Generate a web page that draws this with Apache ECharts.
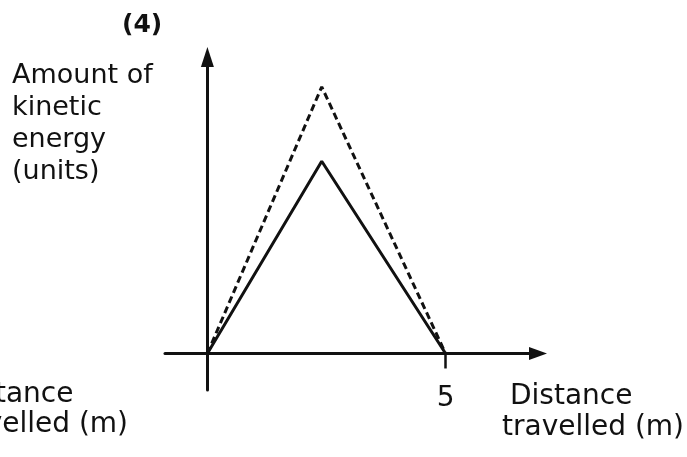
<!DOCTYPE html>
<html>
<head>
<meta charset="utf-8">
<script src="https://cdn.jsdelivr.net/npm/echarts@6/dist/echarts.min.js"></script>
<style>
html,body{margin:0;padding:0;background:#fff;}
#chart{width:687px;height:457px;}
</style>
</head>
<body>
<div id="chart"></div>
<script>
// Data
const distance = [0, 2.4, 5];          // metres
const keSolid = [0, 4.0, 0];           // kinetic energy, solid line (units)
const keDashed = [0, 5.55, 0];         // kinetic energy, dashed line (units)
const xTickValues = [5];               // labelled tick on x axis
const panelLabel = '(4)';
const yTitleLines = ['Amount of', 'kinetic', 'energy', '(units)'];
const xTitleLines = ['Distance', 'travelled (m)'];

const chart = echarts.init(document.getElementById('chart'), null, {renderer: 'canvas'});
const FONT = '"DejaVu Sans", "Liberation Sans", sans-serif';
const INK = '#111';

function pairs(xs, ys) { return xs.map((x, i) => [x, ys[i]]); }

const option = {
  backgroundColor: '#fff',
  animation: false,
  grid: {left: 165, right: 149, top: 57, bottom: 67, containLabel: false},
  xAxis: {
    type: 'value',
    min: -0.89, max: 6.94,
    splitLine: {show: false},
    axisLine: {show: true, onZero: true, symbol: ['none', 'triangle'], symbolSize: [13, 18],
      lineStyle: {color: INK, width: 3}},
    axisTick: {show: true, customValues: xTickValues, length: 15, inside: false,
      lineStyle: {color: INK, width: 2.5}},
    axisLabel: {show: true, customValues: xTickValues, margin: -5,
      fontFamily: FONT, fontSize: 28, color: INK}
  },
  yAxis: {
    type: 'value',
    min: -0.76, max: 6.17,
    splitLine: {show: false},
    axisLine: {show: true, onZero: true, symbol: ['none', 'triangle'], symbolSize: [13, 20],
      lineStyle: {color: INK, width: 3}},
    axisTick: {show: false},
    axisLabel: {show: false}
  },
  series: [
    {
      type: 'line', name: 'solid', data: pairs(distance, keSolid),
      symbol: 'none', lineStyle: {color: INK, width: 3, type: 'solid'}
    },
    {
      type: 'line', name: 'dashed', data: pairs(distance, keDashed),
      symbol: 'none', lineStyle: {color: INK, width: 3, type: [7, 4]}
    }
  ],
  graphic: [
    {type: 'text', x: 122, y: 25, style: {text: panelLabel, font: 'bold 25px ' + FONT, fill: INK,
      textAlign: 'left', textVerticalAlign: 'middle'}},
    {type: 'text', x: 12, y: 60, style: {text: yTitleLines.join('\n'), font: '27px ' + FONT, fill: INK,
      lineHeight: 32, textAlign: 'left', textVerticalAlign: 'top'}},
    {type: 'text', x: 510, y: 397, style: {text: xTitleLines[0], font: '28px ' + FONT, fill: INK,
      textAlign: 'left', textVerticalAlign: 'middle'}},
    {type: 'text', x: 502, y: 428, style: {text: xTitleLines[1], font: '28px ' + FONT, fill: INK,
      textAlign: 'left', textVerticalAlign: 'middle'}},
    {type: 'text', x: -49, y: 395, style: {text: xTitleLines[0], font: '28px ' + FONT, fill: INK,
      textAlign: 'left', textVerticalAlign: 'middle'}},
    {type: 'text', x: -54, y: 425, style: {text: xTitleLines[1], font: '28px ' + FONT, fill: INK,
      textAlign: 'left', textVerticalAlign: 'middle'}}
  ]
};
chart.setOption(option);
</script>
</body>
</html>
